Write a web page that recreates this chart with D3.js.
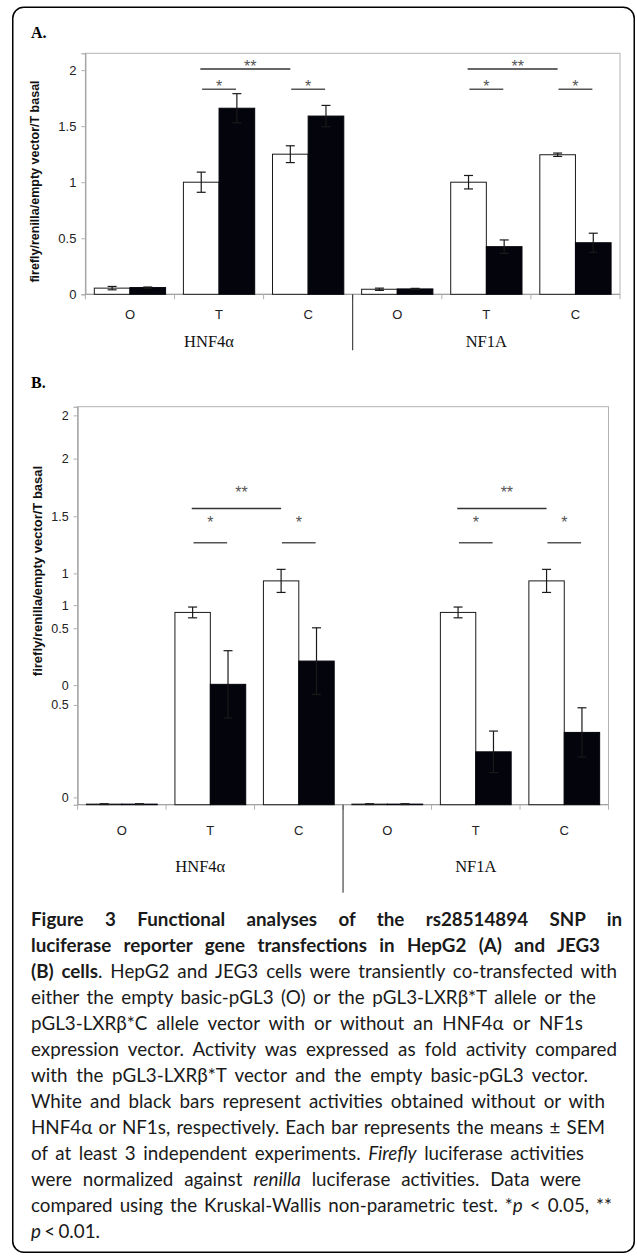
<!DOCTYPE html>
<html>
<head>
<meta charset="utf-8">
<script src="https://cdn.jsdelivr.net/npm/d3@7"></script>
<style>
  body { margin: 0; background: #fff; }
  svg { display: block; }
</style>
</head>
<body>
<div id="figure"></div>
<script>
// categories along the x axis (3 per transcription factor)
var categories = ["O", "T", "C", "O", "T", "C"];
var groups = ["HNF4α", "NF1A"];

// panel A (HepG2): white = without factor, black = with factor
var whiteA    = [0.055, 1.00, 1.25, 0.045, 1.00, 1.245];
var whiteErrA = [0.015, 0.09, 0.075, 0.010, 0.06, 0.015];
var blackA    = [0.060, 1.66, 1.59, 0.048, 0.425, 0.46];
var blackErrA = [0.005, 0.13, 0.095, 0.005, 0.06, 0.085];

// panel B (JEG3)
var whiteB    = [0.003, 1.00, 1.164, 0.003, 1.00, 1.164];
var whiteErrB = [0.002, 0.028, 0.06, 0.002, 0.028, 0.06];
var blackB    = [0.003, 0.626, 0.747, 0.003, 0.275, 0.376];
var blackErrB = [0.002, 0.175, 0.173, 0.002, 0.108, 0.128];

// y tick values / labels (panel B axis is mangled in the original figure)
var yTicksA = [0, 0.5, 1, 1.5, 2];
var yTickLabelsA = ["0", "0.5", "1", "1.5", "2"];
var yTicksB = [0.038, 0.519, 0.622, 0.918, 1.038, 1.203, 1.5, 1.8, 2.025];
var yTickLabelsB = ["0", "0.5", "0", "0.5", "1", "1", "1.5", "2", "2"];

// significance marks: category index range, line level and label level (y units)
var sigA = [
  {label: "**", from: 1, to: 2, y: 2.01, ty: 2.06},
  {label: "*",  from: 1, to: 1, y: 1.83, ty: 1.885},
  {label: "*",  from: 2, to: 2, y: 1.83, ty: 1.885},
  {label: "**", from: 4, to: 5, y: 2.01, ty: 2.06},
  {label: "*",  from: 4, to: 4, y: 1.83, ty: 1.885},
  {label: "*",  from: 5, to: 5, y: 1.83, ty: 1.885}
];
var sigB = [
  {label: "**", from: 1, to: 2, y: 1.54, ty: 1.64},
  {label: "*",  from: 1, to: 1, y: 1.362, ty: 1.483},
  {label: "*",  from: 2, to: 2, y: 1.362, ty: 1.483},
  {label: "**", from: 4, to: 5, y: 1.54, ty: 1.64},
  {label: "*",  from: 4, to: 4, y: 1.362, ty: 1.483},
  {label: "*",  from: 5, to: 5, y: 1.362, ty: 1.483}
];

var yLabel = "firefly/renilla/empty vector/T basal";

var captionLines = [
  [["Figure 3 Functional analyses of the rs28514894 SNP in", "b"]],
  [["luciferase reporter gene transfections in HepG2 (A) and JEG3", "b"]],
  [["(B) cells", "b"], [". HepG2 and JEG3 cells were transiently co-transfected with", ""]],
  [["either the empty basic-pGL3 (O) or the pGL3-LXRβ*T allele or the", ""]],
  [["pGL3-LXRβ*C allele vector with or without an HNF4α or NF1s", ""]],
  [["expression vector. Activity was expressed as fold activity compared", ""]],
  [["with the pGL3-LXRβ*T vector and the empty basic-pGL3 vector.", ""]],
  [["White and black bars represent activities obtained without or with", ""]],
  [["HNF4α or NF1s, respectively. Each bar represents the means ± SEM", ""]],
  [["of at least 3 independent experiments. ", ""], ["Firefly", "i"], [" luciferase activities", ""]],
  [["were normalized against ", ""], ["renilla", "i"], [" luciferase activities. Data were", ""]],
  [["compared using the Kruskal-Wallis non-parametric test. *", ""], ["p", "i"], [" < 0.05, **", ""]],
  [["p", "i"], [" < 0.01.", ""]]
];
// right edge of each caption line in the original layout
var captionRight = [622, 600, 617, 596, 583, 617, 588, 605, 605, 584, 581, 612, 100];

var W = 637, H = 1256;
var svg = d3.select("#figure").append("svg")
    .attr("width", W)
    .attr("height", H);

// outer rounded frame
svg.append("rect")
    .attr("x", 12.75).attr("y", 7.25)
    .attr("width", 621.5).attr("height", 1245)
    .attr("rx", 11).attr("ry", 11)
    .attr("fill", "none")
    .attr("stroke", "#000")
    .attr("stroke-width", 1.5);

function drawPanel(cfg) {
  var g = svg.append("g");
  var x = d3.scaleBand()
      .domain(d3.range(categories.length))
      .range([cfg.left, cfg.right])
      .paddingInner(0).paddingOuter(0);
  var y = d3.scaleLinear()
      .domain([0, cfg.yMax])
      .range([cfg.bottom, cfg.top]);
  var bw = x.bandwidth();

  // panel letter
  g.append("text")
      .attr("x", 31).attr("y", cfg.letterY)
      .attr("font-family", "Liberation Serif, Times New Roman, serif")
      .attr("font-weight", "bold")
      .attr("font-size", 16)
      .text(cfg.letter);

  // plot area frame
  g.append("rect")
      .attr("x", cfg.left).attr("y", cfg.top)
      .attr("width", cfg.right - cfg.left)
      .attr("height", cfg.bottom - cfg.top)
      .attr("fill", "none")
      .attr("stroke", "#b4b4b4")
      .attr("stroke-width", 1);

  // y axis
  var yAxis = g.append("g")
      .attr("transform", "translate(" + cfg.left + ",0)")
      .call(d3.axisLeft(y)
        .tickValues(cfg.ticks)
        .tickFormat(function(d, i) { return cfg.tickLabels[i]; })
        .tickSize(4)
        .tickPadding(5));
  yAxis.select(".domain").attr("stroke", "#9a9a9a");
  yAxis.selectAll(".tick line").attr("stroke", "#b0b0b0");
  yAxis.selectAll(".tick text")
      .attr("font-family", "Liberation Sans, Arial, sans-serif")
      .attr("font-size", cfg.tickFont)
      .attr("fill", "#222");

  // x axis line and boundary ticks
  g.append("line")
      .attr("x1", cfg.left).attr("x2", cfg.right)
      .attr("y1", y(0)).attr("y2", y(0))
      .attr("stroke", "#9a9a9a");
  g.selectAll(".xtick")
      .data(d3.range(categories.length + 1))
      .enter().append("line")
      .attr("class", "xtick")
      .attr("x1", function(i) { return cfg.left + i * bw; })
      .attr("x2", function(i) { return cfg.left + i * bw; })
      .attr("y1", y(0)).attr("y2", y(0) + 5)
      .attr("stroke", "#b0b0b0");

  // bars
  var rows = categories.map(function(c, i) {
    return {i: i, w: cfg.white[i], we: cfg.whiteErr[i], b: cfg.black[i], be: cfg.blackErr[i]};
  });

  g.selectAll(".barw")
      .data(rows)
      .enter().append("rect")
      .attr("class", "barw")
      .attr("x", function(d) { return x(d.i) + 0.1 * bw; })
      .attr("y", function(d) { return y(d.w); })
      .attr("width", 0.4 * bw)
      .attr("height", function(d) { return y(0) - y(d.w); })
      .attr("fill", "#fff")
      .attr("stroke", "#1a1a1a")
      .attr("stroke-width", 1);

  g.selectAll(".barb")
      .data(rows)
      .enter().append("rect")
      .attr("class", "barb")
      .attr("x", function(d) { return x(d.i) + 0.5 * bw; })
      .attr("y", function(d) { return y(d.b); })
      .attr("width", 0.4 * bw)
      .attr("height", function(d) { return y(0) - y(d.b); })
      .attr("fill", "#04040c")
      .attr("stroke", "#04040c")
      .attr("stroke-width", 1);

  // error bars
  var errs = [];
  rows.forEach(function(d) {
    errs.push({cx: x(d.i) + 0.3 * bw, v: d.w, e: d.we});
    errs.push({cx: x(d.i) + 0.7 * bw, v: d.b, e: d.be});
  });
  var eg = g.selectAll(".err").data(errs).enter().append("g")
      .attr("class", "err")
      .attr("stroke", "#1a1a1a")
      .attr("stroke-width", 1.2);
  eg.append("line")
      .attr("x1", function(d) { return d.cx; }).attr("x2", function(d) { return d.cx; })
      .attr("y1", function(d) { return y(d.v - d.e); })
      .attr("y2", function(d) { return y(d.v + d.e); });
  eg.append("line")
      .attr("x1", function(d) { return d.cx - 4.5; }).attr("x2", function(d) { return d.cx + 4.5; })
      .attr("y1", function(d) { return y(d.v + d.e); })
      .attr("y2", function(d) { return y(d.v + d.e); });
  eg.append("line")
      .attr("x1", function(d) { return d.cx - 4.5; }).attr("x2", function(d) { return d.cx + 4.5; })
      .attr("y1", function(d) { return y(d.v - d.e); })
      .attr("y2", function(d) { return y(d.v - d.e); });

  // significance lines and stars
  cfg.sig.forEach(function(s) {
    var x1, x2;
    if (s.from === s.to) {
      x1 = x(s.from) + 0.31 * bw;
      x2 = x(s.to) + 0.69 * bw;
    } else {
      x1 = x(s.from) + 0.29 * bw;
      x2 = x(s.to) + 0.3 * bw;
    }
    g.append("line")
        .attr("x1", x1).attr("x2", x2)
        .attr("y1", y(s.y)).attr("y2", y(s.y))
        .attr("stroke", s.label === "**" ? "#333" : "#555")
        .attr("stroke-width", 1.5);
    g.append("text")
        .attr("x", (x1 + x2) / 2 + (s.label === "**" ? 5 : 0))
        .attr("y", y(s.ty))
        .attr("dy", "0.55em")
        .attr("text-anchor", "middle")
        .attr("font-family", "Liberation Sans, Arial, sans-serif")
        .attr("font-size", 16)
        .attr("fill", "#555")
        .text(s.label);
  });

  // y label
  g.append("text")
      .attr("transform", "translate(" + cfg.yLabelX + "," + cfg.yLabelY + ") rotate(-90)")
      .attr("text-anchor", "middle")
      .attr("dy", "0.35em")
      .attr("font-family", "Liberation Sans, Arial, sans-serif")
      .attr("font-weight", "bold")
      .attr("font-size", cfg.yLabelFont)
      .attr("fill", "#111")
      .text(yLabel);

  // category labels
  g.selectAll(".cat")
      .data(categories)
      .enter().append("text")
      .attr("class", "cat")
      .attr("x", function(d, i) { return x(i) + bw / 2; })
      .attr("y", y(0) + cfg.catOffset)
      .attr("dy", "0.35em")
      .attr("text-anchor", "middle")
      .attr("font-family", "Liberation Sans, Arial, sans-serif")
      .attr("font-size", 13)
      .attr("fill", "#222")
      .text(function(d) { return d; });

  // group labels and separator
  g.selectAll(".grp")
      .data(groups)
      .enter().append("text")
      .attr("class", "grp")
      .attr("x", function(d, i) { return x(i * 3 + 1) + bw / 2 + (i === 0 ? -10 : 0); })
      .attr("y", y(0) + cfg.grpOffset)
      .attr("dy", "0.35em")
      .attr("text-anchor", "middle")
      .attr("font-family", "Liberation Serif, Times New Roman, serif")
      .attr("font-size", 16.5)
      .attr("fill", "#111")
      .text(function(d) { return d; });
  g.append("line")
      .attr("x1", x(3)).attr("x2", x(3))
      .attr("y1", y(0)).attr("y2", y(0) + cfg.sepLen)
      .attr("stroke", "#222")
      .attr("stroke-width", 1);
}

drawPanel({
  letter: "A.", letterY: 38,
  left: 85.4, right: 620, top: 53.3, bottom: 294.3, yMax: 2.15,
  ticks: yTicksA, tickLabels: yTickLabelsA, tickFont: 13,
  white: whiteA, whiteErr: whiteErrA, black: blackA, blackErr: blackErrA,
  sig: sigA, yLabelX: 35, yLabelY: 181.5, yLabelFont: 12.5,
  catOffset: 20, grpOffset: 47, sepLen: 56
});

drawPanel({
  letter: "B.", letterY: 388,
  left: 77.6, right: 608.5, top: 406.7, bottom: 804.7, yMax: 2.07,
  ticks: yTicksB, tickLabels: yTickLabelsB, tickFont: 12.5,
  white: whiteB, whiteErr: whiteErrB, black: blackB, blackErr: blackErrB,
  sig: sigB, yLabelX: 37, yLabelY: 571, yLabelFont: 13,
  catOffset: 26, grpOffset: 62, sepLen: 88
});

// caption, each line stretched to its original right edge
var capLeft = 31, capTop = 926, capPitch = 26;
captionLines.forEach(function(line, li) {
  var t = svg.append("text")
      .attr("x", capLeft)
      .attr("y", capTop + li * capPitch)
      .attr("font-family", "Lato, Open Sans, sans-serif")
      .attr("font-size", 18.8)
      .attr("fill", "#1a1a1a");
  line.forEach(function(seg) {
    t.append("tspan")
        .attr("font-weight", seg[1] === "b" ? "bold" : "normal")
        .attr("font-style", seg[1] === "i" ? "italic" : "normal")
        .text(seg[0]);
  });
  var natural = t.node().getComputedTextLength();
  var spaces = line.map(function(s) { return s[0]; }).join("").split(" ").length - 1;
  if (spaces > 0) {
    var extra = (captionRight[li] - capLeft - natural) / spaces;
    t.attr("word-spacing", extra);
  }
});
</script>
</body>
</html>
